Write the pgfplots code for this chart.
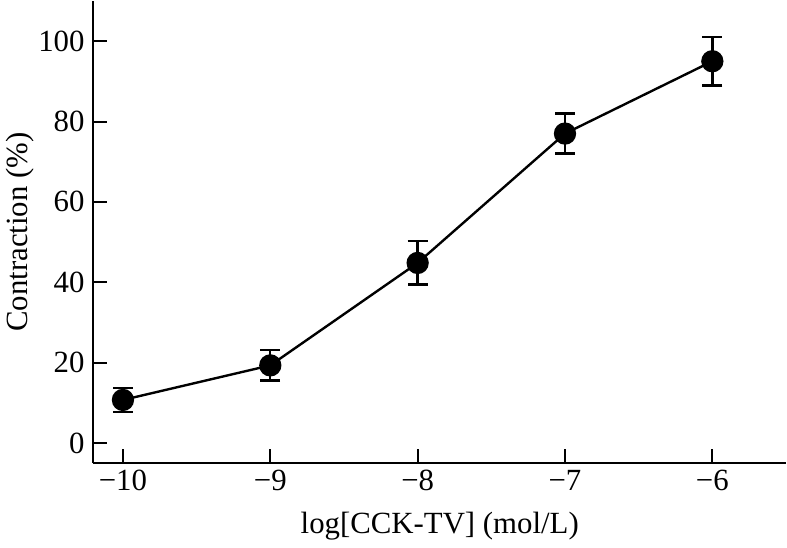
\documentclass[border=0pt]{standalone}
\usepackage{fontspec}
\setmainfont{Liberation Serif}
\usepackage{pgfplots}
\pgfplotsset{compat=1.18}
\begin{document}
\begin{tikzpicture}
\begin{axis}[
  scale only axis,
  width=348.5pt, height=232.5pt,
  xmin=-10.2, xmax=-5.5,
  ymin=-5, ymax=110,
  axis x line=bottom, axis y line=left,
  axis line style={-, line width=1pt},
  tick align=inside,
  major tick length=7pt,
  xtick={-10,-9,-8,-7,-6},
  xticklabels={−10,−9,−8,−7,−6},
  ytick={0,20,40,60,80,100},
  yticklabels={0,20,40,60,80,100},
  tick style={black, line width=1pt},
  ticklabel style={font=\fontsize{15.5}{17}\selectfont},
  yticklabel style={xshift=-1pt},
  label style={font=\fontsize{15.5}{17}\selectfont},
  xlabel={log[CCK-TV] (mol/L)},
  ylabel={Contraction (\%)},
  xlabel style={yshift=-4pt},
  ylabel style={yshift=-5pt},
]
\addplot[black, line width=1.2pt, mark=*, mark size=5pt,
  error bars/.cd, y dir=both, y explicit,
  error bar style={line width=1.2pt},
  error mark options={rotate=90, mark size=5pt, line width=1.2pt}]
  coordinates {
  (-10,10.7) +- (0,3.0)
  (-9,19.3) +- (0,3.8)
  (-8,44.8) +- (0,5.4)
  (-7,77.0) +- (0,5.0)
  (-6,95.0) +- (0,6.0)
  };
\end{axis}
\end{tikzpicture}
\end{document}
